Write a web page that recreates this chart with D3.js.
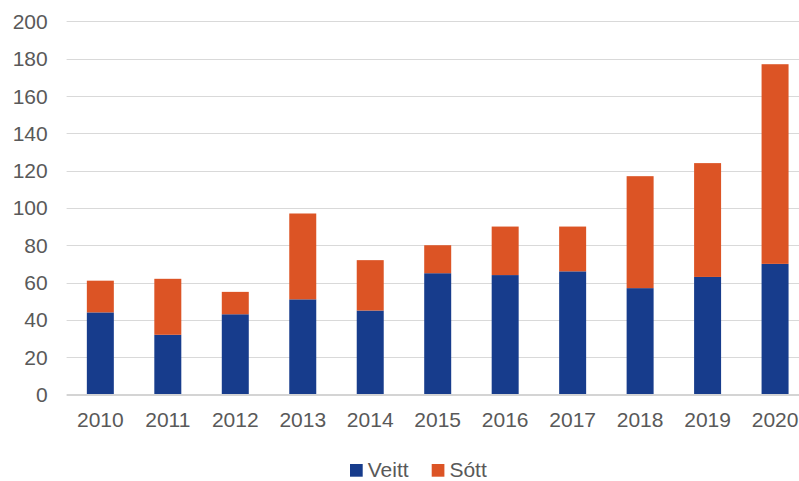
<!DOCTYPE html>
<html>
<head>
<meta charset="utf-8">
<script src="https://cdn.jsdelivr.net/npm/d3@7"></script>
<style>
  html, body { margin: 0; padding: 0; background: #fff; }
  svg { display: block; }
</style>
</head>
<body>
<svg id="chart" width="799" height="481"></svg>
<script>
// data
const years = ["2010", "2011", "2012", "2013", "2014", "2015", "2016", "2017", "2018", "2019", "2020"];
const veitt = [44, 32, 43, 51, 45, 65, 64, 66, 57, 63, 70];
const sott = [17, 30, 12, 46, 27, 15, 26, 24, 60, 61, 107];
const seriesNames = ["Veitt", "Sótt"];
const yTicks = [0, 20, 40, 60, 80, 100, 120, 140, 160, 180, 200];

const colors = { Veitt: "#173c8c", "Sótt": "#dc5425" };
const FONT = "Arial, 'Liberation Sans', Helvetica, sans-serif";
const FONTSIZE = 21;

const svg = d3.select("#chart");

const rows = years.map((y, i) => ({ year: y, Veitt: veitt[i], "Sótt": sott[i] }));
const stacked = d3.stack().keys(seriesNames)(rows);

const x = d3.scaleBand()
  .domain(years)
  .range([66.6, 808.8])
  .paddingInner(0.6)
  .paddingOuter(0.3);

const y = d3.scaleLinear()
  .domain([0, 200])
  .range([394.5, 21.3]);

// gridlines
svg.append("g")
  .selectAll("line")
  .data(yTicks.filter(d => d > 0))
  .join("line")
  .attr("x1", 66.6).attr("x2", 799)
  .attr("y1", d => Math.round(y(d)) + 0.5)
  .attr("y2", d => Math.round(y(d)) + 0.5)
  .style("stroke", "#d9d9d9")
  .style("stroke-width", 1);

// y labels
svg.append("g")
  .selectAll("text")
  .data(yTicks)
  .join("text")
  .attr("x", 47.7)
  .attr("y", d => y(d))
  .attr("dy", "0.36em")
  .attr("text-anchor", "end")
  .text(d => d)
  .style("fill", "#595959")
  .style("font-family", FONT)
  .style("font-size", `${FONTSIZE}px`);

// bars
svg.append("g")
  .selectAll("g")
  .data(stacked)
  .join("g")
  .style("fill", d => colors[d.key])
  .selectAll("rect")
  .data(d => d)
  .join("rect")
  .attr("x", d => x(d.data.year))
  .attr("width", x.bandwidth())
  .attr("y", d => y(d[1]))
  .attr("height", d => y(d[0]) - y(d[1]));

// baseline
svg.append("line")
  .attr("x1", 66.6).attr("x2", 799)
  .attr("y1", 395).attr("y2", 395)
  .style("stroke", "#d4d4d4")
  .style("stroke-width", 2);

// x labels
svg.append("g")
  .selectAll("text")
  .data(years)
  .join("text")
  .attr("x", d => x(d) + x.bandwidth() / 2)
  .attr("y", 427.3)
  .attr("text-anchor", "middle")
  .text(d => d)
  .style("fill", "#595959")
  .style("font-family", FONT)
  .style("font-size", `${FONTSIZE}px`);

// legend
const legendX = [350, 431.7];
const legend = svg.append("g");
seriesNames.forEach((name, i) => {
  legend.append("rect")
    .attr("x", legendX[i]).attr("y", 464)
    .attr("width", 12.7).attr("height", 12.7)
    .style("fill", colors[name]);
  legend.append("text")
    .attr("x", legendX[i] + 17.7)
    .attr("y", 476.7)
    .text(name)
    .style("fill", "#595959")
    .style("font-family", FONT)
    .style("font-size", `${FONTSIZE}px`);
});
</script>
</body>
</html>
